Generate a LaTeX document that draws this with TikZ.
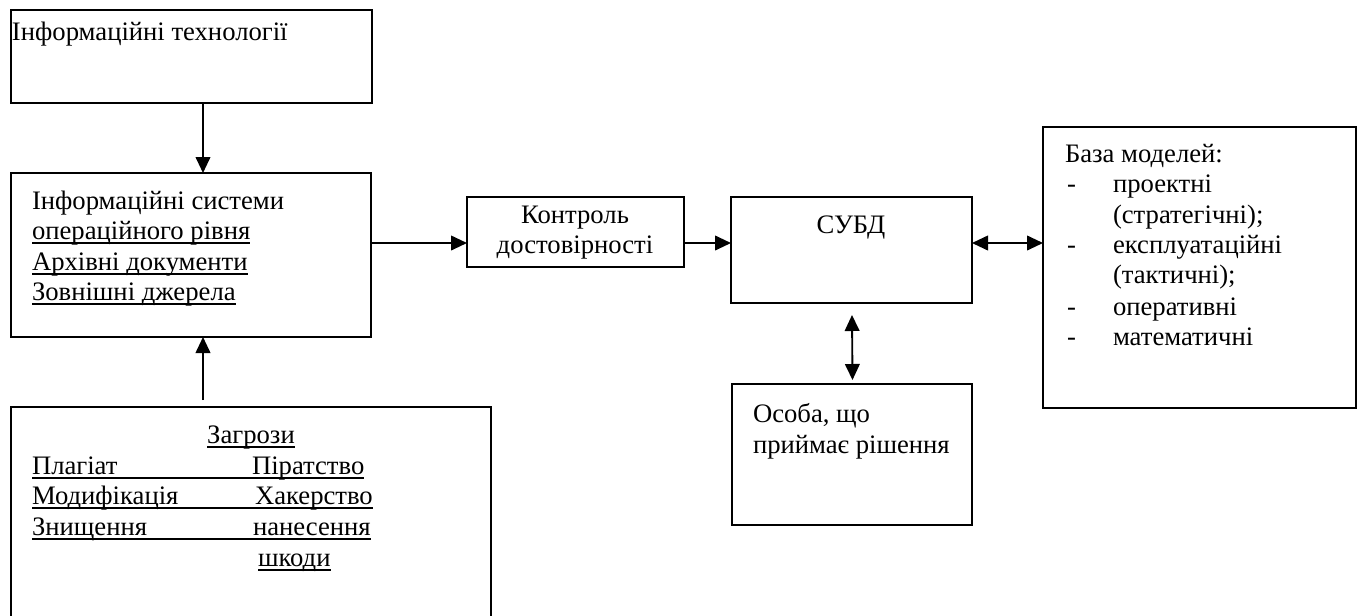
\documentclass[tikz,border=0pt]{standalone}
\usepackage{fontspec}
\setmainfont{Liberation Serif}
\usetikzlibrary{arrows.meta,fit,calc}
\begin{document}
\begin{tikzpicture}[x=0.75pt,y=-0.75pt,
  box/.style={draw, line width=1.4pt, inner sep=0pt, outer sep=0pt},
  txt/.style={inner sep=0pt, outer sep=0pt, anchor=base west, font=\fontsize{20}{23}\selectfont},
  ctxt/.style={txt, anchor=base},
  uline/.style={line width=1pt},
  arr/.style={line width=1.4pt, -{Triangle[length=12pt,width=11pt]}},
  darr/.style={line width=1.4pt, {Triangle[length=12pt,width=11pt]}-{Triangle[length=12pt,width=11pt]}},
]
\useasboundingbox (0,0) rectangle (1361,615);
\clip (0,0) rectangle (1361,615);

% boxes
\node[box, fit={(11,10) (372,103)}] (b1) {};
\node[box, fit={(11,173) (371,337)}] (b2) {};
\node[box, fit={(11,407) (491,640)}] (b3) {};
\node[box, fit={(467,197) (684,267)}] (k) {};
\node[box, fit={(731,197) (972,303)}] (s) {};
\node[box, fit={(732,384) (972,525)}] (o) {};
\node[box, fit={(1043,127) (1356,408)}] (m) {};

% texts
\node[txt] (t1) at (12,40) {Інформаційні технології};

\node[txt] (t2a) at (32,209) {Інформаційні системи};
\node[txt] (t2b) at (32,239) {операційного рівня};
\node[txt] (t2c) at (32,270) {Архівні документи};
\node[txt] (t2d) at (32,300) {Зовнішні джерела};
\foreach \n in {t2b,t2c,t2d}
  \draw[uline] ($(\n.base west)+(0,4)$) -- ($(\n.base east)+(0,4)$);

\node[ctxt] (t3) at (251,443) {Загрози};
\draw[uline] ($(t3.base west)+(0,4)$) -- ($(t3.base east)+(0,4)$);
\node[txt] (p1) at (32,474) {Плагіат};
\node[txt] (p2) at (252,474) {Піратство};
\node[txt] (q1) at (32,504) {Модифікація};
\node[txt] (q2) at (255,504) {Хакерство};
\node[txt] (r1) at (32,535) {Знищення};
\node[txt] (r2) at (253,535) {нанесення};
\node[txt] (r3) at (258,566) {шкоди};
\draw[uline] ($(p1.base west)+(0,4)$) -- ($(p2.base east)+(0,4)$);
\draw[uline] ($(q1.base west)+(0,4)$) -- ($(q2.base east)+(0,4)$);
\draw[uline] ($(r1.base west)+(0,4)$) -- ($(r2.base east)+(0,4)$);
\draw[uline] ($(r3.base west)+(0,4)$) -- ($(r3.base east)+(0,4)$);

\node[ctxt] (k1) at (575,223) {Контроль};
\node[ctxt] (k2) at (575,253) {достовірності};

\node[ctxt] (s1) at (851,233) {СУБД};

\node[txt] (o1) at (753,422) {Особа, що};
\node[txt] (o2) at (753,453) {приймає рішення};

\node[txt] (m0) at (1065,162) {База моделей:};
\foreach \y/\d/\t in {192/-/проектні, 223//(стратегічні);, 253/-/експлуатаційні, 283//(тактичні);, 315/-/оперативні, 345/-/математичні}{
  \node[txt] at (1067,\y) {\d};
  \node[txt] at (1113,\y) {\t};
}

% connectors
\coordinate (ax) at (203,0);
\coordinate (ay) at (0,243);
\draw[arr] (ax |- b1.south) -- (ax |- b2.north);
\draw[arr] ($(ax |- b3.north)+(0,-7)$) -- (ax |- b2.south);
\draw[arr] (b2.east |- ay) -- (k.west |- ay);
\draw[arr] (k.east |- ay) -- (s.west |- ay);
\draw[darr] (s.east |- ay) -- (m.west |- ay);
\draw[darr] ($(s.south)+(0.5,12)$) -- ($(o.north)+(0.5,-4)$);
\end{tikzpicture}
\end{document}
